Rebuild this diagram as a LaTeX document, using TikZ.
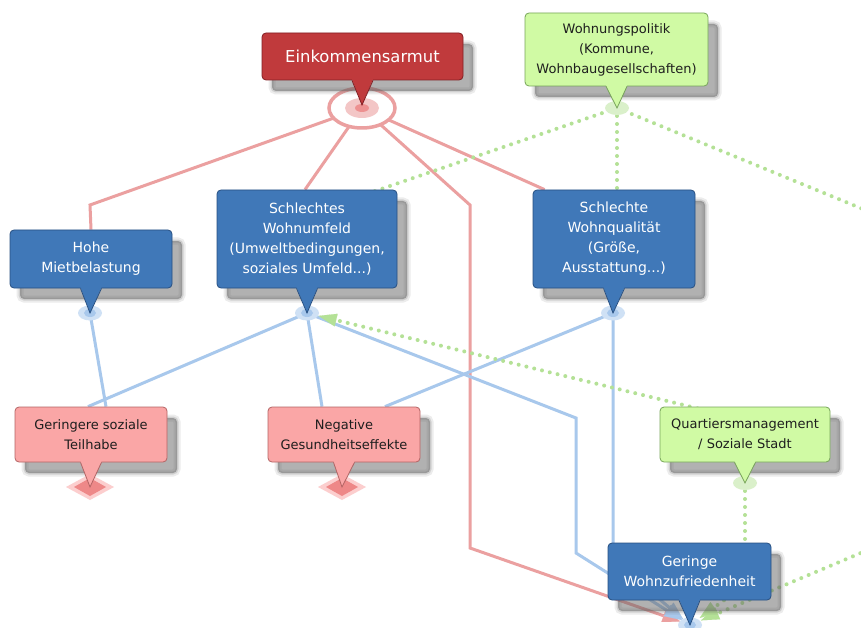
\documentclass[tikz,border=0pt]{standalone}
\usepackage{fontspec}
\setmainfont{DejaVu Sans}
\usetikzlibrary{arrows.meta,calc}
\pgfdeclarelayer{paper}
\pgfdeclarelayer{bg}
\pgfdeclarelayer{anch}
\pgfsetlayers{paper,bg,anch,main}
\definecolor{cRedBox}{RGB}{192,58,60}
\definecolor{cRedBorder}{RGB}{130,30,35}
\definecolor{cBlueBox}{RGB}{64,120,184}
\definecolor{cBlueBorder}{RGB}{40,80,130}
\definecolor{cGreenBox}{RGB}{208,250,164}
\definecolor{cGreenBorder}{RGB}{120,165,90}
\definecolor{cPinkBox}{RGB}{250,166,166}
\definecolor{cPinkBorder}{RGB}{180,100,100}
\definecolor{cRedLine}{RGB}{235,160,160}
\definecolor{cBlueLine}{RGB}{168,200,236}
\definecolor{cGreenLine}{RGB}{180,225,150}
\definecolor{cDark}{RGB}{30,30,30}
\definecolor{cShadow}{RGB}{100,100,100}
\newcommand\callptr[4]{%
  \fill[#3] ($(#1.south)+(-10.5,-1.2)$) -- (#2) -- ($(#1.south)+(10.5,-1.2)$) -- cycle;
  \draw[#4, line width=0.8pt, line join=miter] ($(#1.south)+(-10.5,0)$) -- (#2) -- ($(#1.south)+(10.5,0)$);}
\newcommand\diam[1]{%
  \fill[cPinkBox!55!white] ($(#1)+(-24,0)$) -- ($(#1)+(0,-13)$) -- ($(#1)+(24,0)$) -- ($(#1)+(0,13)$) -- cycle;
  \fill[cRedLine!85!red] ($(#1)+(-16,0)$) -- ($(#1)+(0,-9)$) -- ($(#1)+(16,0)$) -- ($(#1)+(0,9)$) -- cycle;}
\begin{document}
\begin{tikzpicture}[x=1pt,y=-1pt,
  softshadow/.style={
    preaction={draw=cShadow, draw opacity=0.12, line width=7pt, transform canvas={shift={(10pt,-11pt)}}},
    preaction={draw=cShadow, draw opacity=0.2, line width=3pt, fill=cShadow, fill opacity=0.5, transform canvas={shift={(10pt,-11pt)}}}},
  box/.style={rounded corners=4pt, line width=0.8pt, align=center, inner sep=0pt, softshadow},
  redbox/.style={box, fill=cRedBox, draw=cRedBorder, text=white, font=\fontsize{16.4}{20}\selectfont},
  bluebox/.style={box, fill=cBlueBox, draw=cBlueBorder, text=white, font=\fontsize{14}{20}\selectfont},
  greenbox/.style={box, fill=cGreenBox, draw=cGreenBorder, text=cDark, font=\fontsize{13}{20}\selectfont},
  pinkbox/.style={box, fill=cPinkBox, draw=cPinkBorder, text=cDark, font=\fontsize{13}{20}\selectfont},
  redcon/.style={draw=cRedLine, line width=3pt},
  bluecon/.style={draw=cBlueLine, line width=3pt},
  greencon/.style={draw=cGreenLine, line width=4pt, line cap=round, dash pattern=on 0pt off 8pt},
  tipred/.style={-{Triangle[length=18pt,width=13pt,line width=0.1pt]}, shorten >=10pt},
  tipblue/.style={-{Triangle[length=18pt,width=13pt,line width=0.1pt]}, shorten >=9pt},
  tipgreen/.style={-{Triangle[length=18pt,width=13pt,line width=0.1pt]}, shorten >=12pt}
]
\useasboundingbox (0,0) rectangle (861,628);
\begin{pgfonlayer}{paper}
  \fill[white] (0,0) rectangle (861,628);
\end{pgfonlayer}
% anchor points
\coordinate (ein-t) at (362,105);
\coordinate (ein-a) at (362,108);
\coordinate (wp-a) at (617,108);
\coordinate (hohe-a) at (90,313);
\coordinate (sw-a) at (307,313);
\coordinate (sq-a) at (613,313);
\coordinate (gst-a) at (90,487);
\coordinate (neg-a) at (342,487);
\coordinate (qm-a) at (745,483);
\coordinate (gwz-a) at (690,625);
\coordinate (offR1) at (875,214);
\coordinate (offR2) at (875,547);
% boxes
\node[redbox, minimum width=201pt, minimum height=47pt] (ein) at (362.5,56.5) {Einkommensarmut};
\node[greenbox, minimum width=183pt, minimum height=73pt] (wp) at (616.5,49.5) {Wohnungspolitik\\(Kommune,\\Wohnbaugesellschaften)};
\node[bluebox, minimum width=162pt, minimum height=58pt] (hohe) at (91,259) {Hohe\\Mietbelastung};
\node[bluebox, minimum width=180pt, minimum height=98pt] (sw) at (307,239) {Schlechtes\\Wohnumfeld\\(Umweltbedingungen,\\soziales Umfeld...)};
\node[bluebox, minimum width=162pt, minimum height=98pt] (sq) at (614,239) {Schlechte\\Wohnqualität\\(Größe,\\Ausstattung...)};
\node[pinkbox, minimum width=152pt, minimum height=55pt] (gst) at (91,434.5) {Geringere soziale\\Teilhabe};
\node[pinkbox, minimum width=152pt, minimum height=55pt] (neg) at (344,434.5) {Negative\\Gesundheitseffekte};
\node[greenbox, minimum width=170pt, minimum height=55pt] (qm) at (745,434.5) {Quartiersmanagement\\/ Soziale Stadt};
\node[bluebox, minimum width=163pt, minimum height=57pt] (gwz) at (689.5,571.5) {Geringe\\Wohnzufriedenheit};
% pointers
\callptr{ein}{ein-t}{cRedBox}{cRedBorder}
\callptr{wp}{wp-a}{cGreenBox}{cGreenBorder}
\callptr{hohe}{hohe-a}{cBlueBox}{cBlueBorder}
\callptr{sw}{sw-a}{cBlueBox}{cBlueBorder}
\callptr{sq}{sq-a}{cBlueBox}{cBlueBorder}
\callptr{gst}{gst-a}{cPinkBox}{cPinkBorder}
\callptr{neg}{neg-a}{cPinkBox}{cPinkBorder}
\callptr{qm}{qm-a}{cGreenBox}{cGreenBorder}
\callptr{gwz}{gwz-a}{cBlueBox}{cBlueBorder}
% anchor marks
\begin{pgfonlayer}{anch}
  \draw[cRedLine, line width=3.5pt, fill=white] (ein-a) ellipse [x radius=33pt, y radius=20pt];
  \fill[cRedLine!60!white] (ein-a) ellipse [x radius=17pt, y radius=10pt];
  \fill[cRedLine!90!red] (ein-a) ellipse [x radius=7pt, y radius=4pt];
  \foreach \a in {hohe-a,sw-a,sq-a,gwz-a}{
    \fill[cBlueLine!55!white] (\a) ellipse [x radius=12pt, y radius=7.5pt];
    \fill[cBlueLine] (\a) ellipse [x radius=6pt, y radius=4pt];}
  \foreach \a in {wp-a,qm-a}{
    \fill[cGreenLine!50!white] (\a) ellipse [x radius=12pt, y radius=7pt];}
  \diam{gst-a}
  \diam{neg-a}
\end{pgfonlayer}
% connectors
\begin{pgfonlayer}{bg}
  % red
  \draw[redcon] (ein-a) -- (90,205) -- (hohe.north);
  \draw[redcon] (ein-a) -- ($(sw.north)+(-2,0)$);
  \draw[redcon] (ein-a) -- ($(sq.north west)+(12,0)$);
  \draw[redcon, tipred] (ein-a) -- (470,205) -- (470,548) -- (gwz-a);
  % blue
  \draw[bluecon] (hohe-a) -- ($(gst.north)+(15,0)$);
  \draw[bluecon] (sw-a) -- ($(gst.north)+(-3,0)$);
  \draw[bluecon] (sw-a) -- ($(neg.north)+(-22,0)$);
  \draw[bluecon] (sq-a) -- ($(neg.north)+(41,0)$);
  \draw[bluecon, tipblue] (sw-a) -- (576,418) -- (576,553) -- (gwz-a);
  \draw[bluecon, tipblue] (sq-a) -- (613,560) -- (gwz-a);
  % green
  \draw[greencon] (wp-a) -- (355,198);
  \draw[greencon] (wp-a) -- (wp-a |- sq.north);
  \draw[greencon] (wp-a) -- (offR1);
  \draw[greencon, tipgreen] (offR2) -- (gwz-a);
  \draw[greencon, tipgreen] (qm-a) -- (745,585) -- (gwz-a);
  \draw[greencon, tipgreen] (qm-a) -- (745,420) -- (sw-a);
\end{pgfonlayer}
\end{tikzpicture}
\end{document}
